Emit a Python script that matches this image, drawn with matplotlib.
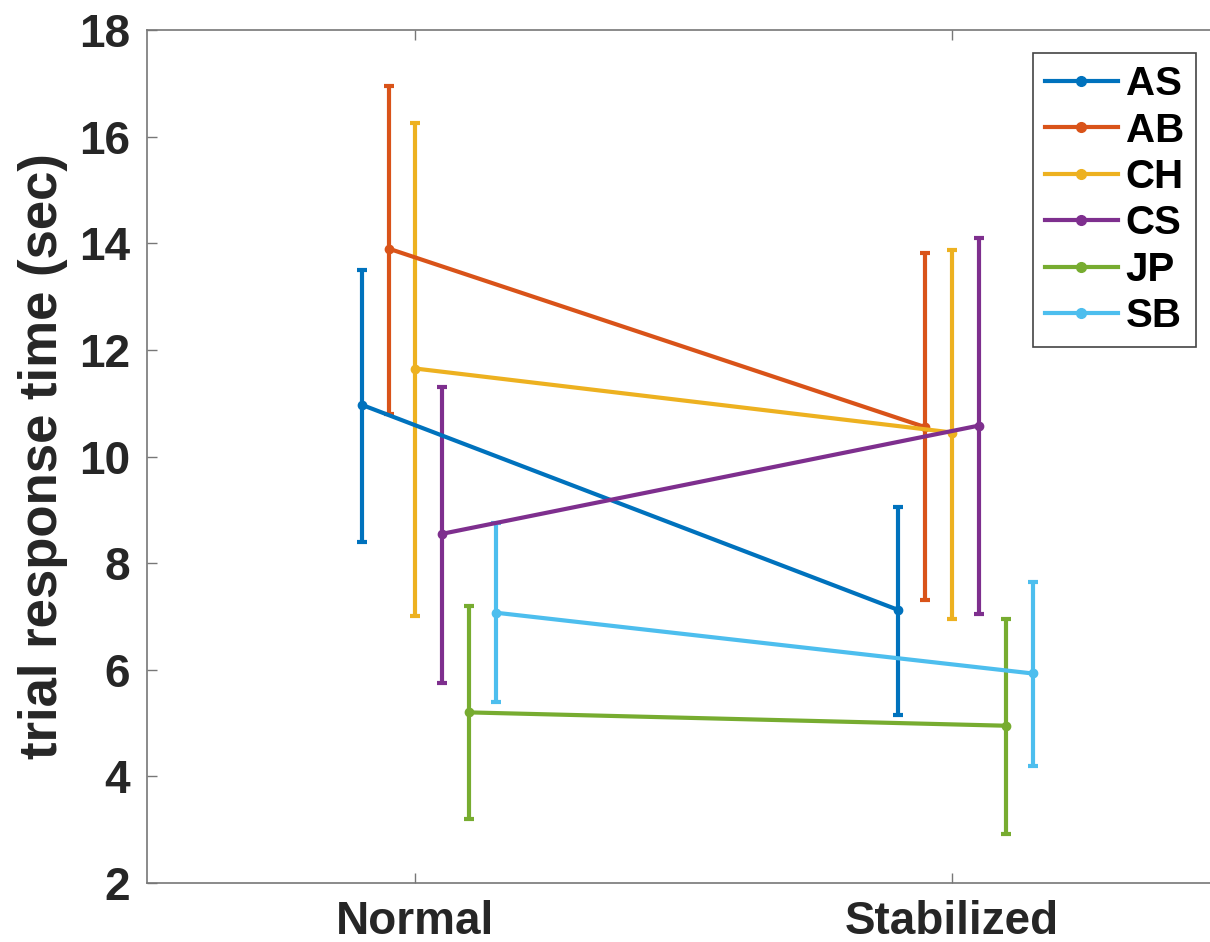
import numpy as np
import matplotlib.pyplot as plt
from matplotlib.lines import Line2D

# data
subjects = ['AS', 'AB', 'CH', 'CS', 'JP', 'SB']
conditions = ['Normal', 'Stabilized']
offsets = [-0.1, -0.05, 0.0, 0.05, 0.1, 0.15]

mean_normal = [10.97, 13.9, 11.65, 8.55, 5.2, 7.07]
mean_stab = [7.12, 10.55, 10.45, 10.58, 4.95, 5.93]
lo_normal = [8.4, 10.8, 7.0, 5.75, 3.2, 5.4]
hi_normal = [13.5, 16.95, 16.25, 11.3, 7.2, 8.75]
lo_stab = [5.15, 7.3, 6.95, 7.05, 2.92, 4.2]
hi_stab = [9.05, 13.82, 13.88, 14.1, 6.95, 7.65]

colors = ['#0072BD', '#D95319', '#EDB120', '#7E2F8E', '#77AC30', '#4DBEEE']

plt.rcParams['font.family'] = ['Liberation Sans', 'DejaVu Sans']
plt.rcParams['font.weight'] = 'bold'

fig = plt.figure(figsize=(12.1, 9.42), dpi=100)
ax = fig.add_axes([147 / 1210, 59 / 942, 1073.5 / 1210, 853 / 942])

handles = []
for i, name in enumerate(subjects):
    x = np.array([1, 2]) + offsets[i]
    y = np.array([mean_normal[i], mean_stab[i]])
    lo = np.array([lo_normal[i], lo_stab[i]])
    hi = np.array([hi_normal[i], hi_stab[i]])
    ax.errorbar(x, y, yerr=[y - lo, hi - y], color=colors[i], lw=3,
                marker='o', ms=6, capsize=3.6, capthick=3)
    handles.append(Line2D([], [], color=colors[i], lw=3, marker='o', ms=7))

ax.set_xlim(0.5, 2.5)
ax.set_ylim(2, 18)
ax.set_xticks([1, 2])
ax.set_xticklabels(conditions)
ax.set_yticks(range(2, 19, 2))
ax.set_ylabel('trial response time (sec)', fontsize=38, fontweight='bold',
              color='#262626', labelpad=8)

for s in ax.spines.values():
    s.set_color('#777777')
    s.set_linewidth(1.2)
ax.tick_params(direction='in', length=7, width=1, color='#777777',
               labelsize=33, labelcolor='#262626', top=True, right=False)
ax.tick_params(axis='x', pad=12)
ax.tick_params(axis='y', pad=12)

leg = ax.legend(handles, subjects, loc='upper left',
                bbox_to_anchor=(1033 / 1210, 1 - 53 / 942),
                bbox_transform=fig.transFigure, fontsize=29, fancybox=False,
                edgecolor='#444444', framealpha=1, borderaxespad=0,
                borderpad=0.3, handlelength=1.8, handletextpad=0.2,
                labelspacing=0.21)
leg.get_frame().set_linewidth(1.2)

fig.savefig('out.png', dpi=100)
